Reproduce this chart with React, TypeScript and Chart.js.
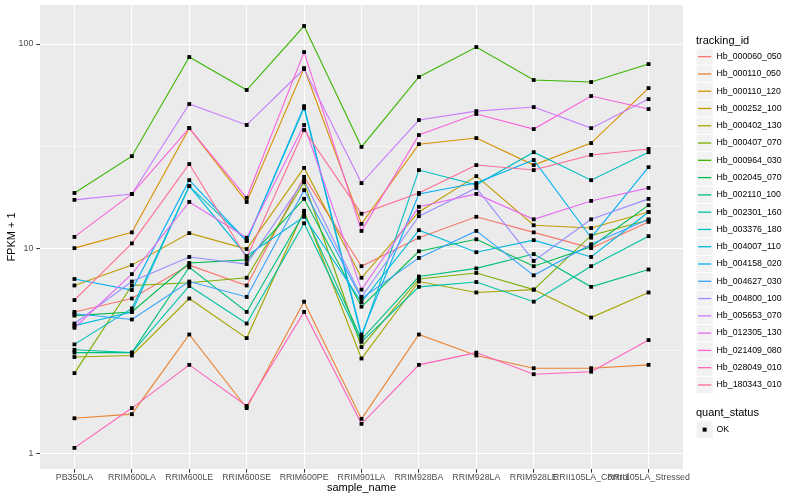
import React, { useEffect, useRef } from "react";
import { Chart, registerables } from "chart.js";

Chart.register(...registerables);

const sampleNames = [
  "PB350LA", "RRIM600LA", "RRIM600LE", "RRIM600SE", "RRIM600PE", "RRIM901LA",
  "RRIM928BA", "RRIM928LA", "RRIM928LE", "RRII105LA_Control", "RRII105LA_Stressed",
];

const trackingIds = [
  "Hb_000060_050", "Hb_000110_050", "Hb_000110_120", "Hb_000252_100", "Hb_000402_130",
  "Hb_000407_070", "Hb_000964_030", "Hb_002045_070", "Hb_002110_100", "Hb_002301_160",
  "Hb_003376_180", "Hb_004007_110", "Hb_004158_020", "Hb_004627_030", "Hb_004800_100",
  "Hb_005653_070", "Hb_012305_130", "Hb_021409_080", "Hb_028049_010", "Hb_180343_010",
];

const seriesColors = [
  "#F8766D", "#EA8331", "#D89000", "#C09B00", "#A3A500", "#7CAE00", "#39B600", "#00BB4E",
  "#00BF7D", "#00C1A3", "#00BFC4", "#00BAE0", "#00B0F6", "#35A2FF", "#9590FF", "#C77CFF",
  "#E76BF3", "#FA62DB", "#FF62BC", "#FF6C91",
];

// FPKM + 1 values per sample, one array per tracking_id
const hb000060050 = [4.9, 5.7, 8.3, 6.6, 22.4, 8.2, 11.3, 14.3, 12.0, 10.05, 13.5];
const hb000110050 = [1.48, 1.55, 3.8, 1.66, 5.5, 1.47, 3.8, 3.0, 2.6, 2.6, 2.7];
const hb000110120 = [10.05, 12.0, 38.8, 16.9, 76.3, 13.2, 32.4, 34.7, 25.6, 32.8, 60.9];
const hb000252100 = [6.6, 8.3, 11.9, 9.95, 24.8, 7.2, 15.1, 22.6, 13.0, 12.6, 15.1];
const hb000402130 = [2.95, 3.0, 5.7, 3.65, 15.3, 2.9, 6.9, 6.1, 6.3, 4.6, 6.1];
const hb000407070 = [2.46, 6.6, 6.8, 7.2, 21.1, 3.3, 7.1, 7.6, 6.3, 11.6, 13.8];
const hb000964030 = [18.7, 28.3, 86.4, 59.6, 122.5, 31.4, 69.0, 96.7, 66.7, 65.2, 79.8];
const hb002045070 = [4.7, 4.9, 8.5, 8.8, 17.5, 5.2, 9.7, 11.1, 8.2, 10.2, 16.3];
const hb002110100 = [3.1, 3.1, 8.1, 4.9, 14.9, 3.6, 7.3, 8.0, 9.4, 6.5, 7.9];
const hb002301160 = [3.2, 3.1, 6.56, 4.3, 13.3, 3.5, 6.5, 6.86, 5.5, 8.2, 11.5];
const hb003376180 = [3.4, 5.1, 20.2, 10.9, 48.6, 3.7, 24.2, 20.5, 29.6, 21.6, 29.6];
const hb004007110 = [4.2, 4.9, 20.2, 9.2, 14.3, 5.47, 12.3, 9.6, 11.0, 9.1, 15.1];
const hb004158020 = [7.1, 6.27, 21.6, 10.9, 49.7, 3.8, 18.5, 20.9, 27.1, 11.3, 25.0];
const hb004627030 = [4.8, 4.5, 6.9, 5.8, 19.3, 5.7, 9.0, 12.2, 7.4, 10.5, 13.9];
const hb004800100 = [4.3, 6.9, 9.1, 8.4, 21.6, 5.8, 14.4, 19.8, 8.7, 13.9, 17.5];
const hb005653070 = [17.3, 18.5, 50.9, 40.2, 75.5, 20.9, 42.5, 47.0, 49.2, 38.8, 53.8];
const hb012305130 = [4.1, 7.5, 16.9, 11.3, 40.2, 6.3, 16.0, 18.5, 13.9, 17.1, 19.8];
const hb021409080 = [11.4, 18.5, 38.8, 17.7, 91.4, 12.2, 35.9, 45.5, 38.4, 55.7, 48.1];
const hb028049010 = [1.06, 1.66, 2.7, 1.7, 4.9, 1.39, 2.7, 3.1, 2.43, 2.5, 3.57];
const hb180343010 = [5.6, 10.6, 25.9, 9.0, 38.0, 14.8, 18.7, 25.6, 24.2, 28.7, 30.7];

const seriesValues = [
  hb000060050, hb000110050, hb000110120, hb000252100, hb000402130,
  hb000407070, hb000964030, hb002045070, hb002110100, hb002301160,
  hb003376180, hb004007110, hb004158020, hb004627030, hb004800100,
  hb005653070, hb012305130, hb021409080, hb028049010, hb180343010,
];

const yTickValues = [1, 3.1623, 10, 31.623, 100];
const yTickLabels = ["1", "", "10", "", "100"];

const FONT = '"Liberation Sans", Arial, Helvetica, sans-serif';

const panelBg = {
  id: "panelBg",
  beforeDraw(chart: any) {
    const { ctx, chartArea } = chart;
    if (!chartArea) return;
    ctx.save();
    ctx.fillStyle = "#EBEBEB";
    ctx.fillRect(chartArea.left, chartArea.top, chartArea.right - chartArea.left, chartArea.bottom - chartArea.top);
    ctx.restore();
  },
};

export default function App() {
  const canvasRef = useRef<HTMLCanvasElement | null>(null);

  useEffect(() => {
    document.body.style.margin = "0";
    const canvas = canvasRef.current;
    if (!canvas) return;

    const lineDatasets = seriesValues.map((vals, i) => ({
      type: "line" as const,
      label: trackingIds[i],
      data: vals.map((v, j) => ({ x: j, y: v })),
      borderColor: seriesColors[i],
      backgroundColor: seriesColors[i],
      borderWidth: 1.1,
      pointRadius: 0,
      pointHoverRadius: 0,
      fill: false,
      tension: 0,
      order: 100 - i,
    }));

    const pointDataset = {
      type: "line" as const,
      label: "OK",
      data: seriesValues.flatMap((vals) => vals.map((v, j) => ({ x: j, y: v }))),
      showLine: false,
      pointStyle: "rect" as const,
      pointRadius: 2.7,
      pointHoverRadius: 2.7,
      pointBackgroundColor: "#000000",
      pointBorderColor: "#000000",
      pointBorderWidth: 0,
      order: 0,
    };

    const chart = new Chart(canvas, {
      type: "line",
      data: { datasets: [...lineDatasets, pointDataset] as any },
      plugins: [panelBg],
      options: {
        animation: false,
        responsive: false,
        devicePixelRatio: 1,
        layout: { padding: { top: 5, right: 117, bottom: 0, left: 0 } },
        plugins: { legend: { display: false }, tooltip: { enabled: false } },
        scales: {
          x: {
            type: "linear",
            min: -0.6,
            max: 10.6,
            afterBuildTicks: (s: any) => {
              s.ticks = sampleNames.map((_, i) => ({ value: i }));
            },
            afterFit: (s: any) => {
              s.height = 31;
              s.paddingLeft = 0;
              s.paddingRight = 0;
            },
            ticks: {
              autoSkip: false,
              maxRotation: 0,
              minRotation: 0,
              padding: 0,
              color: "#4D4D4D",
              font: { family: FONT, size: 8.8 },
              callback: (_v: any, i: number) => sampleNames[i],
            },
            grid: {
              color: "#FFFFFF",
              lineWidth: 1.07,
              tickLength: 3.7,
              tickColor: "#333333",
              tickWidth: 1,
            },
            border: { display: false },
            title: {
              display: true,
              text: "sample_name",
              color: "#000000",
              font: { family: FONT, size: 11 },
              padding: { top: 0, bottom: 5 },
            },
          },
          y: {
            type: "logarithmic",
            min: 0.836,
            max: 155.2,
            afterBuildTicks: (s: any) => {
              s.ticks = yTickValues.map((v) => ({ value: v }));
            },
            afterFit: (s: any) => {
              s.width = 40;
              s.paddingTop = 0;
              s.paddingBottom = 0;
            },
            ticks: {
              padding: 3,
              color: "#4D4D4D",
              font: { family: FONT, size: 8.8 },
              callback: (_v: any, i: number) => yTickLabels[i],
            },
            grid: {
              color: "#FFFFFF",
              lineWidth: (c: any) => (yTickLabels[c.index] ? 1.07 : 0.53),
              tickLength: 3.7,
              tickColor: (c: any) => (yTickLabels[c.index] ? "#333333" : "rgba(0,0,0,0)"),
              tickWidth: 1,
            },
            border: { display: false },
            title: {
              display: true,
              text: "FPKM + 1",
              color: "#000000",
              font: { family: FONT, size: 11 },
              padding: { top: 5, bottom: 0 },
            },
          },
        },
      } as any,
    });

    return () => chart.destroy();
  }, []);

  const keyTop0 = 48;
  const keyStep = 17.28;

  return (
    <div style={{ position: "relative", width: 800, height: 500, background: "#FFFFFF", fontFamily: FONT }}>
      <canvas ref={canvasRef} width={800} height={500} style={{ position: "absolute", left: 0, top: 0, width: 800, height: 500 }} />
      <div style={{ position: "absolute", left: 696, top: 33, fontSize: 11, lineHeight: "14px", color: "#000" }}>tracking_id</div>
      <svg width={20} height={360} style={{ position: "absolute", left: 696, top: keyTop0 }}>
        {trackingIds.map((id, i) => {
          const y = i * keyStep;
          return (
            <g key={id}>
              <rect x={0.5} y={y + 0.5} width={keyStep - 1} height={keyStep - 1} fill="#F2F2F2" />
              <line x1={2} x2={keyStep - 2} y1={y + keyStep / 2} y2={y + keyStep / 2} stroke={seriesColors[i]} strokeWidth={1.3} />
            </g>
          );
        })}
      </svg>
      {trackingIds.map((id, i) => (
        <div
          key={id}
          style={{
            position: "absolute",
            left: 716.5,
            top: keyTop0 + i * keyStep,
            height: keyStep,
            lineHeight: keyStep + "px",
            fontSize: 8.8,
            color: "#000",
            whiteSpace: "nowrap",
          }}
        >
          {id}
        </div>
      ))}
      <div style={{ position: "absolute", left: 696, top: 405, fontSize: 11, lineHeight: "14px", color: "#000" }}>quant_status</div>
      <svg width={20} height={20} style={{ position: "absolute", left: 696, top: 420.5 }}>
        <rect x={0.5} y={0.5} width={keyStep - 1} height={keyStep - 1} fill="#F2F2F2" />
        <rect x={keyStep / 2 - 2} y={keyStep / 2 - 2} width={4} height={4} fill="#000" />
      </svg>
      <div
        style={{
          position: "absolute",
          left: 716.5,
          top: 420.5,
          height: keyStep,
          lineHeight: keyStep + "px",
          fontSize: 8.8,
          color: "#000",
        }}
      >
        OK
      </div>
    </div>
  );
}
